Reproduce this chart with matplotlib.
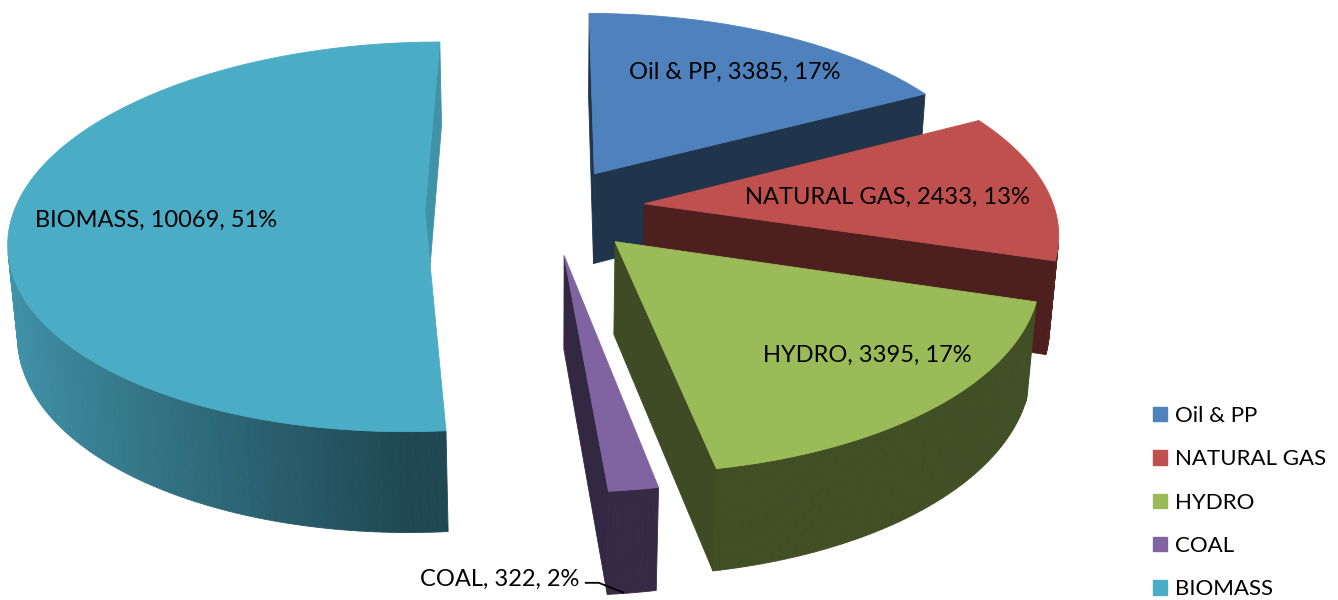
import numpy as np
import matplotlib
matplotlib.use('Agg')
import matplotlib.pyplot as plt
from matplotlib.patches import Polygon, Patch

# ---------------- data ----------------
categories = ['Oil & PP', 'NATURAL GAS', 'HYDRO', 'COAL', 'BIOMASS']
values = [3385, 2433, 3395, 322, 10069]
percent_labels = ['17%', '13%', '17%', '2%', '51%']

# ---------------- style ----------------
top_colors = ['#4F81BD', '#C0504D', '#9BBB59', '#8064A2', '#4BACC6']
explode = [88, 95, 95, 100, 125]           # px, radial explosion per slice
label_rf = [0.72, 0.60, 0.76, 0.0, 0.65]   # label radius fraction
label_dang = [1.5, 2, -4, 0, -2]           # label angle shift (deg)
R, H = 410.0, 105.0
phi = np.radians(27.7)
D = 2690.0
CX, CY = 550.0, 208.0
FONT = ['Lato', 'DejaVu Sans']

W, HPX = 1338, 600
fig = plt.figure(figsize=(W / 100, HPX / 100), dpi=100)
ax = fig.add_axes([0, 0, 1, 1])
ax.set_xlim(0, W)
ax.set_ylim(HPX, 0)
ax.axis('off')

cam = np.array([0.0, D * np.sin(phi), D * np.cos(phi)])


def proj(P):
    P = np.asarray(P, dtype=float)
    X, Y, Z = P[..., 0], P[..., 1], P[..., 2]
    v = Y * np.cos(phi) - Z * np.sin(phi)
    w = Y * np.sin(phi) + Z * np.cos(phi)
    s = D / (D - w)
    return np.stack([CX + X * s, CY - v * s], axis=-1)


def dirv(theta_deg):
    t = np.radians(theta_deg)
    return np.array([np.sin(t), 0.0, -np.cos(t)])


def shade(color, f):
    c = np.array(matplotlib.colors.to_rgb(color))
    return tuple(np.clip(c * f, 0, 1))


total = float(sum(values))
angles = np.array(values) / total * 360.0
starts = np.concatenate([[0], np.cumsum(angles)[:-1]])

slices = []
for i in range(len(values)):
    th0, th1 = starts[i], starts[i] + angles[i]
    mid = (th0 + th1) / 2
    off = dirv(mid) * explode[i]
    centroid = off + dirv(mid) * R * 0.5 + np.array([0, -H / 2, 0])
    dist = np.linalg.norm(cam - centroid)
    slices.append((dist, i, th0, th1, mid, off))

slices.sort(key=lambda t: -t[0])

geom = {}
for dist, i, th0, th1, mid, off in slices:
    col = top_colors[i]
    n = max(4, int(angles[i] / 1.0))
    ths = np.linspace(th0, th1, n + 1)
    rim_top = np.array([off + dirv(t) * R for t in ths])
    rim_bot = rim_top + np.array([0, -H, 0])
    apex_top = off.copy()
    apex_bot = off + np.array([0, -H, 0])
    faces = []
    # outer side segments
    for j in range(n):
        tm = (ths[j] + ths[j + 1]) / 2
        nrm = dirv(tm)
        quad = np.array([rim_top[j], rim_top[j + 1], rim_bot[j + 1], rim_bot[j]])
        c = quad.mean(axis=0)
        if np.dot(nrm, cam - c) > 0:
            f = 0.42 + 0.45 * max(0.0, -np.sin(np.radians(tm)))
            faces.append((np.linalg.norm(cam - c), quad, shade(col, f)))
    # radial faces
    for t_edge, nang, k in [(th0, th0 - 90, 0), (th1, th1 + 90, -1)]:
        nrm = dirv(nang)
        quad = np.array([apex_top, rim_top[k], rim_bot[k], apex_bot])
        c = quad.mean(axis=0)
        if np.dot(nrm, cam - c) > 0:
            f = 0.40 + 0.45 * max(0.0, (nrm[0] - 0.6) / 0.4)
            faces.append((np.linalg.norm(cam - c), quad, shade(col, f)))
    faces.sort(key=lambda t: -t[0])
    for _, quad, fc in faces:
        ax.add_patch(Polygon(proj(quad), closed=True, facecolor=fc,
                             edgecolor=fc, linewidth=0.6, antialiased=True))
    top = np.vstack([apex_top[None, :], rim_top])
    ax.add_patch(Polygon(proj(top), closed=True, facecolor=col,
                         edgecolor=col, linewidth=0.6))
    geom[i] = (th0, th1, mid, off, rim_bot)

# ---------------- labels ----------------
fs = 17
for i in range(len(values)):
    th0, th1, mid, off, rim_bot = geom[i]
    txt = f'{categories[i]}, {values[i]}, {percent_labels[i]}'
    if categories[i] == 'COAL':
        end = proj(off + dirv(mid) * R + np.array([0, -H, 0]))
        ex, ey = end[0] - 8, min(end[1], 594)
        lx, ly = ex - 44, ey - 13
        ax.plot([lx + 5, lx + 19, ex], [ly + 3, ly + 3, ey],
                color='black', lw=1.3, solid_capstyle='butt')
        ax.text(lx, ly, txt, ha='right', va='center', fontsize=fs,
                family=FONT, color='black')
    else:
        p = proj(off + dirv(mid + label_dang[i]) * R * label_rf[i])
        ax.text(p[0], p[1], txt, ha='center', va='center', fontsize=fs,
                family=FONT, color='black')

# ---------------- legend ----------------
handles = [Patch(facecolor=c, edgecolor=c) for c in top_colors]
leg = ax.legend(handles, categories, loc='upper left',
                bbox_to_anchor=(1153 / W, 1 - 406 / HPX),
                frameon=False, borderpad=0, borderaxespad=0,
                handlelength=0.63, handleheight=0.63, handletextpad=0.36,
                labelspacing=1.05, prop={'family': FONT, 'size': 16})

fig.savefig('out.png', dpi=100)
